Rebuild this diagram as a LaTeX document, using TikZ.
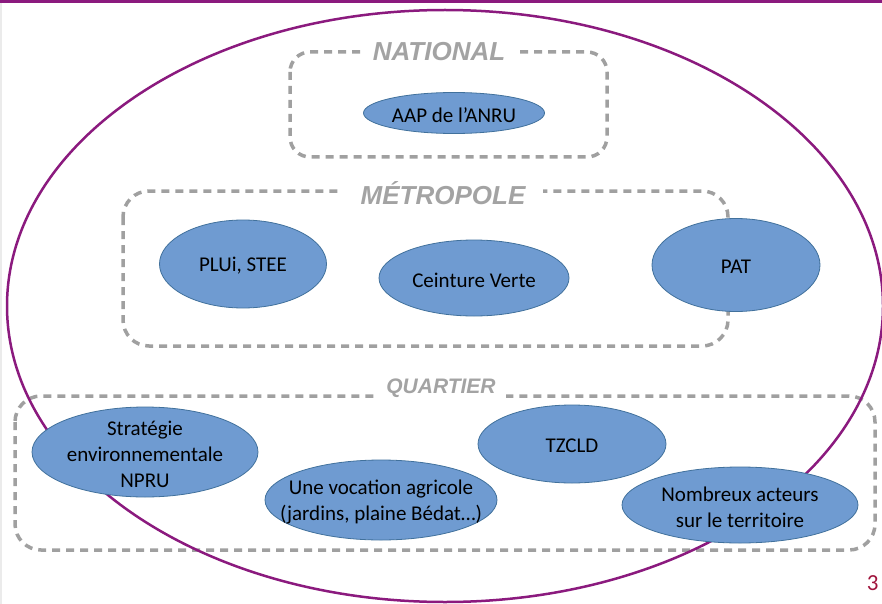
\documentclass[tikz,border=0pt]{standalone}
\usepackage{fontspec}
\setmainfont{Carlito}
\newfontfamily\titlefont{Liberation Sans}
\definecolor{purp}{HTML}{8B1A7E}
\definecolor{dgrey}{HTML}{A0A0A0}
\definecolor{tgrey}{HTML}{A3A3A3}
\definecolor{bfill}{HTML}{6F9BD1}
\definecolor{bdraw}{HTML}{41719C}
\definecolor{numred}{HTML}{A0143C}
\tikzset{
  x=1pt, y=-1pt,
  dbox/.style={draw=dgrey, line width=3.5pt, dash pattern=on 8pt off 6pt},
  blobshape/.style={draw=bdraw, line width=0.8pt, fill=bfill},
  blob/.style={inner sep=0pt, align=center, yshift=-2pt, font=\fontsize{21}{26}\selectfont},
  ttl/.style={fill=white, text=tgrey, inner ysep=2pt},
}
\begin{document}
\begin{tikzpicture}
\useasboundingbox (0,0) rectangle (882,604);
\fill[white] (0,0) rectangle (882,604);
\fill[purp] (0,0) rectangle (882,3.5);
\fill[black!8] (0,3.5) rectangle (2,604);
% dashed boxes
\draw[dbox, rounded corners=20pt] (290,52) rectangle (607,157);
\draw[dbox, rounded corners=26pt] (123,191) rectangle (728,346);
\draw[dbox, rounded corners=26pt] (15,396) rectangle (875,550);
\node[ttl, inner xsep=10pt, font=\titlefont\bfseries\itshape\fontsize{26}{28}\selectfont] (tnat) at (439,52) {NATIONAL};
\node[ttl, inner xsep=18pt, font=\titlefont\bfseries\itshape\fontsize{26}{28}\selectfont] (tmet) at (443,193) {MÉTROPOLE};
\node[ttl, inner xsep=10pt, font=\titlefont\bfseries\itshape\fontsize{21}{24}\selectfont] (tqua) at (441,388) {QUARTIER};
% big ellipse
\draw[purp, line width=2.5pt] (445,306) ellipse [x radius=438, y radius=296];
% blobs
\path[blobshape] (454,113) ellipse [x radius=90.5, y radius=20.5];
\node[blob] (anru) at (454,113) {AAP de l’ANRU};
\path[blobshape] (243,264) ellipse [x radius=83.5, y radius=44];
\node[blob] (plui) at (243,264) {PLUi, STEE};
\path[blobshape] (474,278) ellipse [x radius=95, y radius=38];
\node[blob] (cv) at (474,278) {Ceinture Verte};
\path[blobshape] (736,265) ellipse [x radius=84, y radius=46.5];
\node[blob] (pat) at (736,265) {PAT};
\path[blobshape] (145,452) ellipse [x radius=113, y radius=45];
\node[blob] (strat) at (145,452) {Stratégie\\environnementale\\NPRU};
\path[blobshape] (381,500) ellipse [x radius=116, y radius=40];
\node[blob] (voc) at (381,500) {Une vocation agricole\\(jardins, plaine Bédat…)};
\path[blobshape] (572,444) ellipse [x radius=94, y radius=39];
\node[blob] (tz) at (572,444) {TZCLD};
\path[blobshape] (740,505) ellipse [x radius=118, y radius=38];
\node[blob] (nomb) at (740,505) {Nombreux acteurs\\sur le territoire};
\node[text=numred, font=\fontsize{23}{25}\selectfont, anchor=east] (num) at (882,583) {3};
\end{tikzpicture}
\end{document}
